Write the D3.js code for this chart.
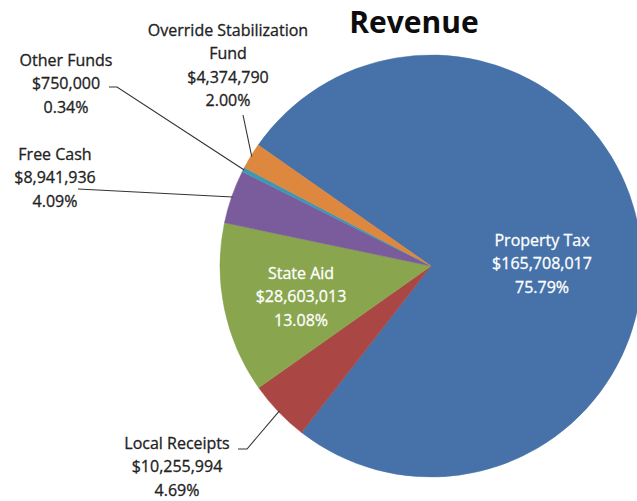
<!DOCTYPE html>
<html>
<head>
<meta charset="utf-8">
<script src="https://cdn.jsdelivr.net/npm/d3@7"></script>
<style>
  html, body { margin: 0; padding: 0; background: #fff; }
  svg { display: block; font-family: "Open Sans", Lato, sans-serif; }
</style>
</head>
<body>
<svg id="chart" width="637" height="501"></svg>
<script>
// ── data ───────────────────────────────────────────────
const categories = ['Property Tax', 'Local Receipts', 'State Aid', 'Free Cash', 'Other Funds', 'Override Stabilization Fund'];
const amounts    = [165708017, 10255994, 28603013, 8941936, 750000, 4374790];
const percents   = ['75.79%', '4.69%', '13.08%', '4.09%', '0.34%', '2.00%'];
const colors     = ['#4672A9', '#AA4643', '#89A54E', '#7A5C9C', '#3F97B3', '#DE873E'];

// label layout (text centre x, first line centre y, leader start points)
const labelLayout = [
  { lines: ['Property Tax'], x: 542, y: 240, fill: '#fff', leader: null },
  { lines: ['Local Receipts'], x: 177, y: 443, fill: '#222', leader: [[238, 449], [247, 449]] },
  { lines: ['State Aid'], x: 301, y: 273, fill: '#fff', leader: null },
  { lines: ['Free Cash'], x: 55, y: 154, fill: '#222', leader: [[78, 189]] },
  { lines: ['Other Funds'], x: 66, y: 60, fill: '#222', leader: [[109, 87], [117, 87]] },
  { lines: ['Override Stabilization', 'Fund'], x: 228, y: 30, fill: '#222', leader: [[243, 115]] }
];

const cx = 431, cy = 266, r = 211;
const startDeg = -55;
const lineH = 23.3;

const svg = d3.select('#chart');

// ── title ──────────────────────────────────────────────
svg.append('text')
  .attr('x', 414).attr('y', 21)
  .attr('text-anchor', 'middle')
  .attr('dominant-baseline', 'central')
  .attr('font-size', 30)
  .attr('font-weight', 'bold')
  .attr('fill', '#0d0d0d')
  .text('Revenue');

// ── pie ────────────────────────────────────────────────
const a0 = startDeg * Math.PI / 180;
const pie = d3.pie().sort(null).value(d => d)
  .startAngle(a0).endAngle(a0 + 2 * Math.PI);
const arcs = pie(amounts);

const arc = d3.arc().innerRadius(0).outerRadius(r);
const edge = d3.arc().innerRadius(r - 1).outerRadius(r - 1);

const g = svg.append('g').attr('transform', `translate(${cx},${cy})`);

g.selectAll('path.slice')
  .data(arcs)
  .enter()
  .append('path')
    .attr('class', 'slice')
    .attr('d', arc)
    .attr('fill', (d, i) => colors[i])
    .attr('stroke', (d, i) => colors[i])
    .attr('stroke-width', 0.5);

// ── leader lines ───────────────────────────────────────
arcs.forEach((d, i) => {
  const L = labelLayout[i];
  if (!L.leader) return;
  const [ex, ey] = edge.centroid(d);
  const pts = L.leader.concat([[cx + ex, cy + ey]]);
  svg.append('path')
    .attr('d', d3.line()(pts))
    .attr('fill', 'none')
    .attr('stroke', '#333')
    .attr('stroke-width', 1.1);
});

// ── labels ─────────────────────────────────────────────
const fmt = d3.format('$,');
arcs.forEach((d, i) => {
  const L = labelLayout[i];
  const lines = L.lines.concat([fmt(amounts[i]), percents[i]]);
  const t = svg.append('text')
    .attr('text-anchor', 'middle')
    .attr('font-size', 16)
    .attr('fill', L.fill)
    .attr('stroke', L.fill)
    .attr('stroke-width', 0.3);
  lines.forEach((s, k) => {
    t.append('tspan')
      .attr('x', L.x)
      .attr('y', L.y + k * lineH)
      .attr('dominant-baseline', 'central')
      .text(s);
  });
});
</script>
</body>
</html>
